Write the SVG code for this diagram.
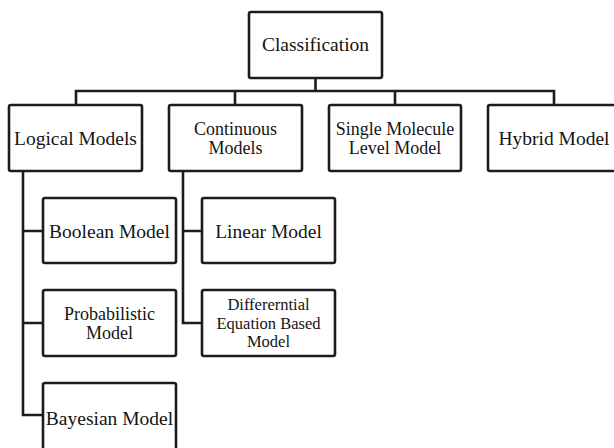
<svg xmlns="http://www.w3.org/2000/svg" width="614" height="448" viewBox="0 0 614 448">
<style>
.box{fill:#fff;stroke:#1c1c1c;stroke-width:2.6;}
.c{fill:none;stroke:#1c1c1c;stroke-width:2.6;stroke-linejoin:miter;}
text{font-family:"Liberation Serif","Times New Roman",serif;font-size:19.5px;fill:#141414;text-anchor:middle;}
.m{font-size:18px;}
.s{font-size:16.5px;}
</style>
<rect width="614" height="448" fill="#fff"/>
<g id="connectors">
<path class="c" d="M315.5,78V91M76,105V91H554V105M235,91V105M395,91V105"/>
<path class="c" d="M23,171V415H43M23,231H43M23,323H43"/>
<path class="c" d="M183,171V323H202M183,231H202"/>
</g>
<g id="classification"><rect class="box" x="249" y="12" width="133" height="66" rx="2"/><text x="315.5" y="51">Classification</text></g>
<g id="logical"><rect class="box" x="9" y="105" width="133" height="66" rx="2"/><text x="75.5" y="145">Logical Models</text></g>
<g id="continuous"><rect class="box" x="169" y="105" width="133" height="66" rx="2"/><text class="m" x="235.5" y="134.5">Continuous</text><text class="m" x="235.5" y="153.5">Models</text></g>
<g id="single"><rect class="box" x="329" y="105" width="132" height="66" rx="2"/><text class="m" x="395" y="134.5">Single Molecule</text><text class="m" x="395" y="153.5">Level Model</text></g>
<g id="hybrid"><rect class="box" x="488" y="105" width="134" height="66" rx="2"/><text x="554" y="145">Hybrid Model</text></g>
<g id="boolean"><rect class="box" x="43" y="198" width="133" height="65" rx="2"/><text x="109.5" y="238">Boolean Model</text></g>
<g id="probabilistic"><rect class="box" x="43" y="290" width="133" height="66" rx="2"/><text class="m" x="109.5" y="319.5">Probabilistic</text><text class="m" x="109.5" y="338.5">Model</text></g>
<g id="bayesian"><rect class="box" x="43" y="383" width="133" height="68" rx="2"/><text x="109.5" y="425">Bayesian Model</text></g>
<g id="linear"><rect class="box" x="202" y="198" width="133" height="65" rx="2"/><text x="268.5" y="238">Linear Model</text></g>
<g id="differential"><rect class="box" x="202" y="290" width="133" height="66" rx="2"/><text class="s" x="268.5" y="310">Differerntial</text><text class="s" x="268.5" y="328.5">Equation Based</text><text class="s" x="268.5" y="347">Model</text></g>
</svg>
